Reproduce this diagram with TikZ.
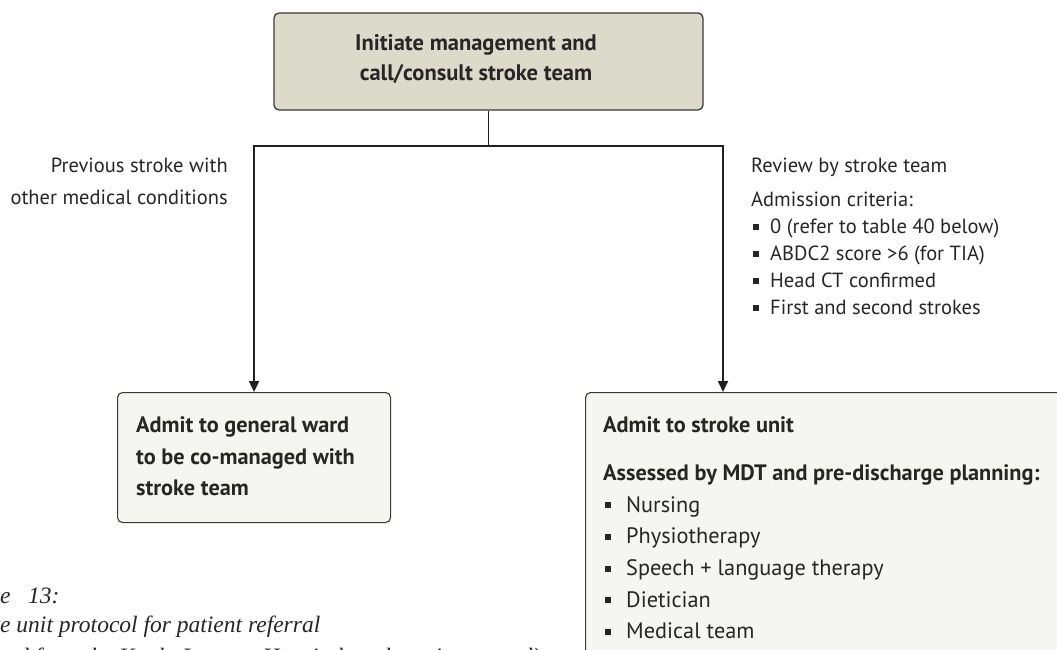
\documentclass[tikz,border=0pt]{standalone}
\usepackage{fontspec}
\setmainfont{PT Sans}
\newfontfamily\captionserif{Liberation Serif}
\usetikzlibrary{arrows.meta}
\definecolor{inkline}{HTML}{231F20}
\definecolor{boxedge}{HTML}{3A3A3A}
\definecolor{headfill}{HTML}{DCDACB}
\definecolor{paperfill}{HTML}{F5F5F1}
\definecolor{textgrey}{HTML}{262626}
% square list markers
\newcommand{\boxbullet}{\makebox[23pt][l]{\hspace{2pt}\rule[4pt]{6pt}{6pt}}}
\newcommand{\notebullet}{\makebox[19pt][l]{\hspace{2pt}\rule[3.5pt]{5.5pt}{5.5pt}}}

\begin{document}
\begin{tikzpicture}[x=1pt,y=-1pt,
  headbox/.style={draw=boxedge,line width=1.3pt,fill=headfill,rounded corners=5pt},
  paperbox/.style={draw=boxedge,line width=1.1pt,fill=paperfill,rounded corners=5pt},
  boxtext/.style={inner sep=0pt,text=textgrey,font=\fontsize{22.3}{31.7}\selectfont\bfseries},
  notetext/.style={inner sep=0pt,text=textgrey,font=\fontsize{20.5}{27}\selectfont},
  capline/.style={inner sep=0pt,anchor=base west,text=textgrey,font=\captionserif\itshape\fontsize{23.5}{28}\selectfont},
  link/.style={draw=inkline,line width=1.8pt},
  flow/.style={link,-{Triangle[length=11pt,width=10pt]}}
]
\useasboundingbox (0,0) rectangle (1057,650);
\clip (0,0) rectangle (1057,650);

% boxes
\node[headbox,minimum width=429pt,minimum height=97pt] (init) at (488.5,61.5) {};
\node[boxtext,anchor=north,align=center,font=\fontsize{22.5}{30.5}\selectfont\bfseries] (inittext) at (476,34.3)
  {Initiate management and\\call/consult stroke team};

\node[paperbox,anchor=north west,minimum width=273pt,minimum height=130pt] (ward) at (117,392) {};
\node[boxtext,anchor=north west,align=left] (wardtext) at (136,416.4)
  {Admit to general ward\\to be co-managed with\\stroke team};

\node[paperbox,anchor=north west,minimum width=600pt,minimum height=400pt] (unit) at (585,392) {};
\node[boxtext,anchor=north west,align=left] (unittext) at (603,416.4)
  {Admit to stroke unit\\[16.3pt]
   Assessed by MDT and pre-discharge planning:\\
   \mdseries\boxbullet Nursing\\
   \mdseries\boxbullet Physiotherapy\\
   \mdseries\boxbullet Speech + language therapy\\
   \mdseries\boxbullet Dietician\\
   \mdseries\boxbullet Medical team};

% branch labels
\node[notetext,anchor=north east,align=right,font=\fontsize{20.5}{32}\selectfont] (prevnote) at (228,157.3)
  {Previous stroke with\\other medical conditions};
\node[notetext,anchor=north west,align=left] (reviewnote) at (751,157.3)
  {Review by stroke team\\[7pt]
   Admission criteria:\\
   \notebullet 0 (refer to table 40 below)\\
   \notebullet ABDC2 score >6 (for TIA)\\
   \notebullet Head CT confirmed\\
   \notebullet First and second strokes};

% connectors
\coordinate (split) at (init.south |- 0,146);
\coordinate (leftturn) at (ward.north |- split);
\coordinate (rightturn) at (723,146);
\draw[link] (init.south) -- (split);
\draw[link,line cap=rect] (leftturn) -- (rightturn);
\draw[flow] (leftturn) -- (ward.north);
\draw[flow] (rightturn) -- (rightturn |- unit.north);

% caption
\node[capline] (capa) at (0,603) {\llap{Figur}e\enspace\ 13:};
\node[capline] (capb) at (0,632) {\llap{Strok}e unit protocol for patient referral};
\node[capline] (capc) at (0,664) {\llap{(adap}ted from the Kuala Lumpur Hospital stroke unit protocol)};
\end{tikzpicture}
\end{document}
